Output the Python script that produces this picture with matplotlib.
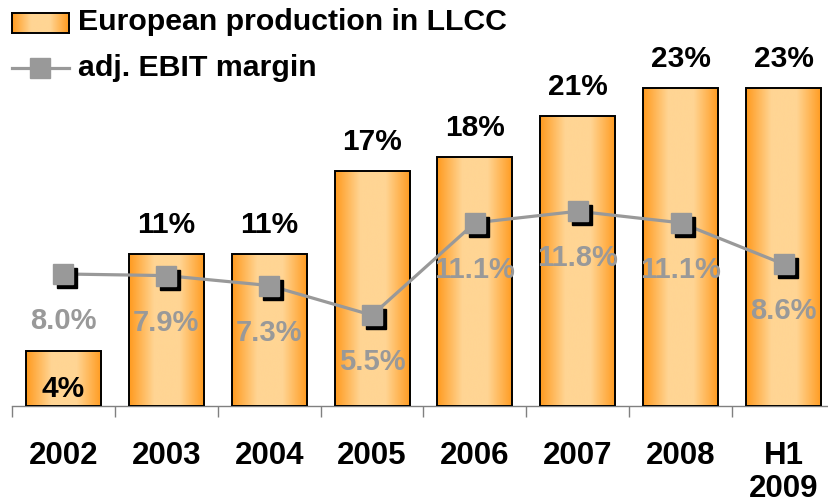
import numpy as np
import matplotlib
matplotlib.use("Agg")
import matplotlib.pyplot as plt
from matplotlib.colors import LinearSegmentedColormap
from matplotlib.lines import Line2D
from matplotlib import transforms

plt.rcParams['font.family'] = ['Liberation Sans', 'DejaVu Sans']

# European production share in low-labour-cost countries vs adj. EBIT margin
periods = ["2002", "2003", "2004", "2005", "2006", "2007", "2008", "H1\n2009"]
llcc_share = [4, 11, 11, 17, 18, 21, 23, 23]
ebit_margin = [8.0, 7.9, 7.3, 5.5, 11.1, 11.8, 11.1, 8.6]

orange = '#FF9A1E'
light = '#FFD594'
grey = '#999999'
bar_cmap = LinearSegmentedColormap.from_list('bar', [orange, light, light, orange], N=256)
grad = np.linspace(0, 1, 256)[None, :]

W, H = 829, 503
fig = plt.figure(figsize=(W / 100, H / 100), dpi=100)
ax = fig.add_axes([12 / W, 97 / H, (835 - 12) / W, 406 / H])
ax2 = ax.twinx()
ax.set_zorder(1)
ax2.set_zorder(2)
ax.patch.set_visible(False)
ax2.patch.set_visible(False)

x = np.arange(len(periods))
bars = ax.bar(x, llcc_share, width=0.73, facecolor='none', edgecolor='black',
              linewidth=1.4, zorder=3)
for b, v in zip(bars, llcc_share):
    x0 = b.get_x()
    im = ax.imshow(grad, extent=[x0, x0 + b.get_width(), 0, v], aspect='auto',
                   cmap=bar_cmap, zorder=2, interpolation='bicubic')
    im.set_clip_path(b)
    if v < 6:
        ax.text(b.get_x() + b.get_width() / 2, 1.2, f"{v}%", ha='center', va='center',
                fontsize=21.5, fontweight='bold', color='black', zorder=5)
    else:
        ax.annotate(f"{v}%", (b.get_x() + b.get_width() / 2, v), xytext=(0, 21),
                    textcoords='offset points', ha='center', va='center',
                    fontsize=21.5, fontweight='bold', color='black')

ax.set_xlim(-0.5, len(periods) - 0.5)
ax.set_ylim(0, 29.4)
ax2.set_ylim(0, 24.6)

# margin line with dropped-shadow square markers
ax2.plot(x, ebit_margin, color=grey, linewidth=2.3, zorder=2)
shadow = transforms.offset_copy(ax2.transData, fig=fig, x=4, y=-4, units='dots')
ax2.plot(x, ebit_margin, linestyle='none', marker='s', markersize=14.5,
         markerfacecolor='black', markeredgecolor='black', transform=shadow, zorder=3)
ax2.plot(x, ebit_margin, linestyle='none', marker='s', markersize=14.5,
         markerfacecolor=grey, markeredgecolor=grey, zorder=4)
for xi, m in zip(x, ebit_margin):
    ax2.annotate(f"{m:.1f}%", (xi, m), xytext=(0, -34), textcoords='offset points',
                 ha='center', va='center', fontsize=21, fontweight='bold', color=grey,
                 zorder=5)

for a in (ax, ax2):
    for s in ('top', 'left', 'right'):
        a.spines[s].set_visible(False)
    a.set_yticks([])
ax2.spines['bottom'].set_visible(False)
ax.spines['bottom'].set_color('#808080')
ax.spines['bottom'].set_linewidth(1.0)

ax.set_xticks(x, periods, fontsize=22.5, fontweight='bold')
ax.tick_params(axis='x', which='major', length=0, pad=25)
ax.set_xticks(np.arange(-0.5, len(periods)), minor=True)
ax.tick_params(axis='x', which='minor', length=8, color='#808080', width=1.0)
for lbl in ax.get_xticklabels():
    lbl.set_linespacing(1.15)

# legend drawn by hand at the top left
box = fig.add_axes([12 / W, 1 - 33 / H, 57 / W, 20 / H])
box.imshow(grad, aspect='auto', cmap=bar_cmap, extent=[0, 1, 0, 1])
box.set_xticks([])
box.set_yticks([])
for s in box.spines.values():
    s.set_linewidth(1.4)
fig.text(78 / W, 1 - 22 / H, "European production in LLCC", fontsize=21.8,
         fontweight='bold', va='center', ha='left')
fig.add_artist(Line2D([12 / W, 69 / W], [1 - 68 / H, 1 - 68 / H], color=grey,
                      linewidth=2.3, transform=fig.transFigure))
fig.add_artist(Line2D([40 / W], [1 - 68 / H], marker='s', markersize=14.5,
                      color=grey, transform=fig.transFigure))
fig.text(78 / W, 1 - 68 / H, "adj. EBIT margin", fontsize=21.8,
         fontweight='bold', va='center', ha='left')

fig.savefig("out.png", dpi=100)
